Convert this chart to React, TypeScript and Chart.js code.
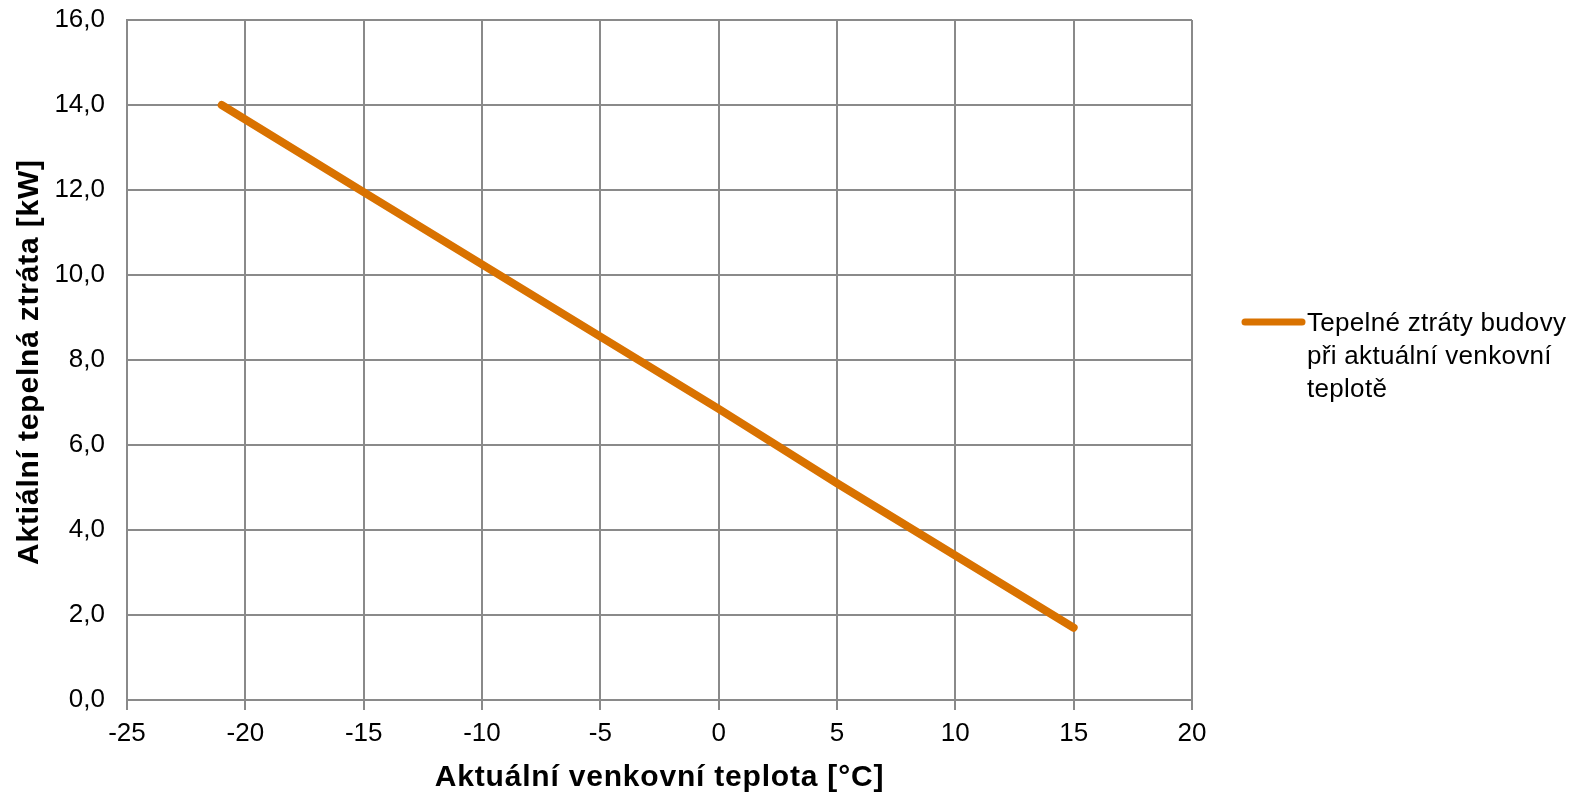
import React, { useEffect, useRef } from "react";
import { Chart, registerables } from "chart.js";

Chart.register(...registerables);

// ---- data ----
const temperatures = [-21, -15, -10, -5, 0, 5, 10, 15];
const heatLoss = [14.0, 11.95, 10.25, 8.55, 6.85, 5.1, 3.4, 1.7];
const seriesLabel = ["Tepelné ztráty budovy", "při aktuální venkovní", "teplotě"];
const xTitle = "Aktuální venkovní teplota [°C]";
const yTitle = "Aktiální tepelná ztráta [kW]";
const xMin = -25;
const xMax = 20;
const xStep = 5;
const yMin = 0;
const yMax = 16;
const yStep = 2;

const W = 1581;
const H = 793;
const LINE_COLOR = "#D97200";
const GRID_COLOR = "#8a8a8a";
const FONT = "'Liberation Sans', Arial, sans-serif";

const decorPlugin = {
  id: "decor",
  afterDraw(chart: any) {
    const ctx = chart.ctx as CanvasRenderingContext2D;
    const area = chart.chartArea;
    // axis titles
    ctx.save();
    ctx.fillStyle = "#000";
    ctx.font = `bold 30px ${FONT}`;
    (ctx as any).letterSpacing = "0.8px";
    ctx.textAlign = "center";
    ctx.textBaseline = "alphabetic";
    ctx.fillText(xTitle, (area.left + area.right) / 2, 786);
    ctx.translate(38, (area.top + area.bottom) / 2 + 2);
    ctx.rotate(-Math.PI / 2);
    ctx.fillText(yTitle, 0, 0);
    ctx.restore();

    // legend
    ctx.save();
    ctx.strokeStyle = LINE_COLOR;
    ctx.lineWidth = 7;
    ctx.lineCap = "round";
    ctx.beginPath();
    ctx.moveTo(1245, 322);
    ctx.lineTo(1302, 322);
    ctx.stroke();
    ctx.fillStyle = "#000";
    ctx.font = `26px ${FONT}`;
    (ctx as any).letterSpacing = "0.3px";
    ctx.textAlign = "left";
    ctx.textBaseline = "alphabetic";
    seriesLabel.forEach((line, i) => {
      ctx.fillText(line, 1307, 331 + i * 33);
    });
    ctx.restore();
  },
};

export default function App() {
  const ref = useRef<HTMLCanvasElement | null>(null);
  useEffect(() => {
    if (!ref.current) return;
    const chart = new Chart(ref.current, {
      type: "line",
      data: {
        datasets: [
          {
            label: seriesLabel.join(" "),
            data: temperatures.map((t, i) => ({ x: t, y: heatLoss[i] })),
            borderColor: LINE_COLOR,
            backgroundColor: LINE_COLOR,
            borderWidth: 8,
            borderCapStyle: "round",
            borderJoinStyle: "round",
            pointRadius: 0,
            tension: 0,
            fill: false,
          },
        ],
      },
      options: {
        animation: false,
        responsive: false,
        devicePixelRatio: 1,
        layout: { padding: { left: 0, top: 20, right: W - 1192, bottom: 0 } },
        plugins: {
          legend: { display: false },
          tooltip: { enabled: false },
          title: { display: false },
        },
        scales: {
          x: {
            type: "linear",
            min: xMin,
            max: xMax,
            ticks: {
              stepSize: xStep,
              color: "#000",
              font: { family: FONT, size: 26 },
              padding: 8,
              maxRotation: 0,
            },
            grid: {
              color: GRID_COLOR,
              lineWidth: 2,
              tickLength: 10,
              drawTicks: true,
            },
            border: { display: true, color: GRID_COLOR, width: 2 },
            afterFit(scale: any) {
              scale.height = H - 700;
              scale.paddingLeft = 0;
              scale.paddingRight = 0;
              scale.paddingTop = 0;
              scale.paddingBottom = 0;
            },
          },
          y: {
            type: "linear",
            min: yMin,
            max: yMax,
            ticks: {
              stepSize: yStep,
              color: "#000",
              font: { family: FONT, size: 26 },
              padding: 22,
              callback: (v: any) => Number(v).toFixed(1).replace(".", ","),
            },
            grid: {
              color: GRID_COLOR,
              lineWidth: 2,
              drawTicks: false,
            },
            border: { display: true, color: GRID_COLOR, width: 2 },
            afterFit(scale: any) {
              scale.width = 127;
              scale.paddingLeft = 0;
              scale.paddingRight = 0;
              scale.paddingTop = 0;
              scale.paddingBottom = 0;
            },
          },
        },
      },
      plugins: [decorPlugin],
    });
    return () => chart.destroy();
  }, []);
  return (
    <div style={{ position: "fixed", left: 0, top: 0, width: W, height: H, background: "#fff" }}>
      <canvas ref={ref} width={W} height={H} style={{ width: W, height: H, display: "block" }} />
    </div>
  );
}
